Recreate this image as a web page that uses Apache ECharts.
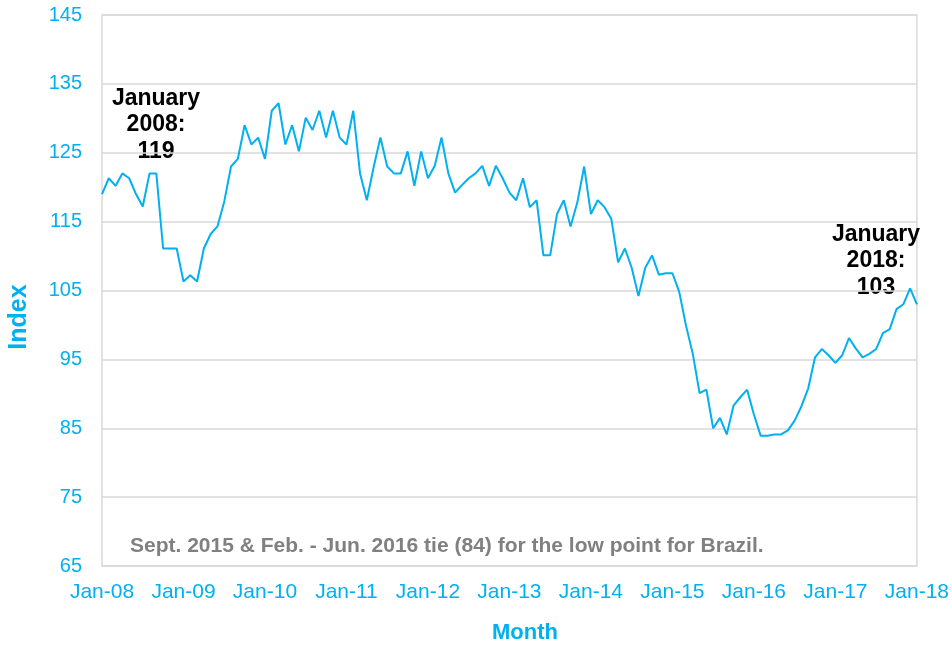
<!DOCTYPE html>
<html>
<head>
<meta charset="utf-8">
<script src="https://cdn.jsdelivr.net/npm/echarts@6/dist/echarts.min.js"></script>
<style>
  html, body { margin: 0; padding: 0; background: #fff; }
  #chart { width: 952px; height: 648px; }
</style>
</head>
<body>
<div id="chart"></div>
<script>
// month names and years used to build the category axis
var monthNames = ["Jan", "Feb", "Mar", "Apr", "May", "Jun", "Jul", "Aug", "Sep", "Oct", "Nov", "Dec"];
var years = ["08", "09", "10", "11", "12", "13", "14", "15", "16", "17", "18"];

// index values, Jan-08 .. Jan-18
var values2008 = [119, 121.3, 120.2, 122, 121.3, 119, 117.2, 122, 122, 111.1, 111.1, 111.1];
var values2009 = [106.3, 107.2, 106.3, 111.1, 113.2, 114.3, 117.9, 123, 124.1, 129, 126.2, 127.2];
var values2010 = [124.1, 131.1, 132.2, 126.2, 129, 125.2, 130.1, 128.3, 131.1, 127.2, 131.1, 127.2];
var values2011 = [126.2, 131.1, 122, 118.1, 122.9, 127.2, 123, 122, 122, 125.2, 120.2, 125.2];
var values2012 = [121.3, 123.1, 127.2, 122, 119.2, 120.3, 121.3, 122, 123.1, 120.2, 123.1, 121.3];
var values2013 = [119.2, 118.1, 121.3, 117.1, 118.1, 110.1, 110.1, 116.1, 118.1, 114.3, 117.8, 123];
var values2014 = [116.1, 118.1, 117.1, 115.4, 109.1, 111.1, 108.3, 104.2, 108.3, 110.1, 107.3, 107.5];
var values2015 = [107.5, 104.8, 99.9, 95.8, 90.1, 90.6, 85, 86.5, 84.1, 88.3, 89.5, 90.6];
var values2016 = [87, 83.9, 83.9, 84.1, 84.1, 84.7, 86.1, 88.2, 90.8, 95.3, 96.5, 95.6];
var values2017 = [94.5, 95.6, 98.1, 96.6, 95.3, 95.8, 96.5, 98.8, 99.4, 102.3, 103, 105.3];
var values2018 = [103];

var yTicks = { min: 65, max: 145, step: 10 };

var categories = [];
years.forEach(function (y, i) {
  var n = i === years.length - 1 ? 1 : 12;
  for (var m = 0; m < n; m++) categories.push(monthNames[m] + "-" + y);
});
var indexValues = [].concat(values2008, values2009, values2010, values2011, values2012,
  values2013, values2014, values2015, values2016, values2017, values2018);

var blue = "#00B0F0";
var font = "Arial, 'Liberation Sans', sans-serif";

var chart = echarts.init(document.getElementById("chart"));
var option = {
  animation: false,
  grid: {
    left: 102, right: 34, top: 15, bottom: 82,
    show: true, borderColor: "#D9D9D9", borderWidth: 1.5
  },
  xAxis: {
    type: "category",
    data: categories,
    boundaryGap: false,
    axisLine: { show: false },
    axisTick: { show: false },
    axisLabel: { interval: 11, color: blue, fontSize: 21, fontFamily: font, margin: 16 },
    splitLine: { show: false }
  },
  yAxis: {
    type: "value",
    min: yTicks.min, max: yTicks.max, interval: yTicks.step,
    axisLine: { show: false },
    axisTick: { show: false },
    axisLabel: { color: blue, fontSize: 20, fontFamily: font, margin: 20 },
    splitLine: { lineStyle: { color: "#D9D9D9", width: 1.5 } }
  },
  series: [{
    type: "line",
    data: indexValues,
    showSymbol: false,
    lineStyle: { color: blue, width: 2 },
    itemStyle: { color: blue }
  }],
  graphic: [
    {
      type: "text", x: 156, y: 85,
      style: { text: "January\n2008:\n119", fill: "#000", font: "bold 23px " + font, align: "center", verticalAlign: "top", lineHeight: 26.5 }
    },
    {
      type: "text", x: 876, y: 221,
      style: { text: "January\n2018:\n103", fill: "#000", font: "bold 23px " + font, align: "center", verticalAlign: "top", lineHeight: 26.5 }
    },
    {
      type: "text", x: 130, y: 546,
      style: { text: "Sept. 2015 & Feb. - Jun. 2016 tie (84) for the low point for Brazil.", fill: "#808080", font: "bold 21px " + font, align: "left", verticalAlign: "middle" }
    },
    {
      type: "text", x: 525, y: 633,
      style: { text: "Month", fill: blue, font: "bold 22px " + font, align: "center", verticalAlign: "middle" }
    },
    {
      type: "text", x: 19, y: 317, rotation: Math.PI / 2,
      style: { text: "Index", fill: blue, font: "bold 25px " + font, align: "center", verticalAlign: "middle" }
    }
  ]
};
chart.setOption(option);
</script>
</body>
</html>
